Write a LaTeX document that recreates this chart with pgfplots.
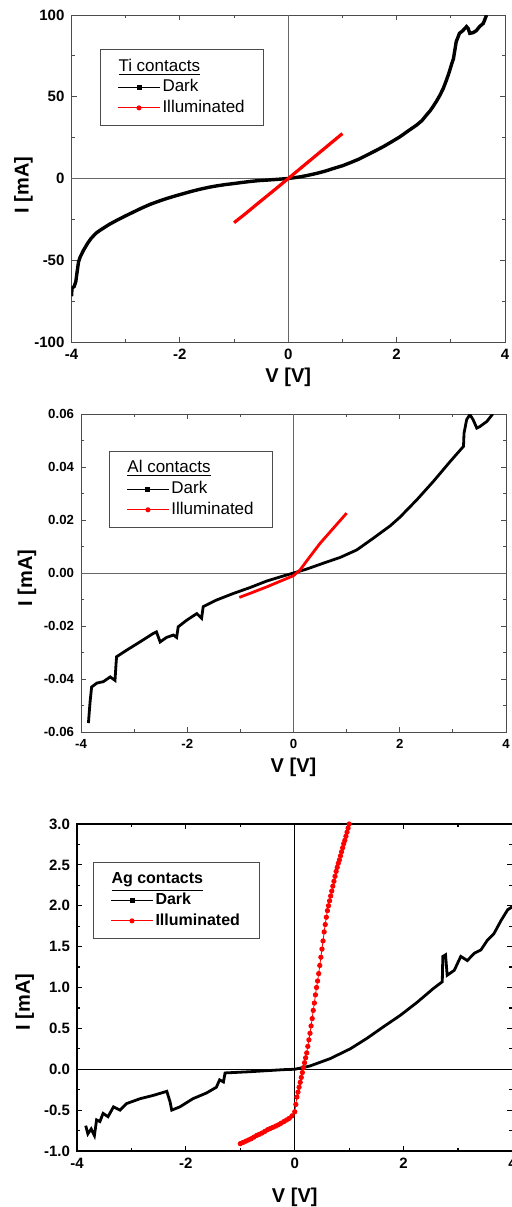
\documentclass[border=0pt]{standalone}
\usepackage{fontspec}
\setmainfont{Liberation Sans}
\usepackage{pgfplots}
\pgfplotsset{compat=1.18}

\pgfplotsset{
  ivstyle/.style={
    scale only axis, anchor=north west,
    xmin=-4, xmax=4, xtick={-4,-2,0,2,4},
    minor x tick num=1, minor y tick num=1,
    tick align=inside, xtick pos=both, ytick pos=both,
    major tick length=2.6pt, minor tick length=1.6pt,
    scaled ticks=false,
    /pgf/number format/assume math mode=true,
    xlabel={V [V]}, ylabel={I [mA]},
    label style={font=\fontsize{10}{12}\selectfont\bfseries},
    extra x ticks={0}, extra x tick labels={},
    extra y ticks={0}, extra y tick labels={},
    extra tick style={grid=major, major tick length=0pt},
    legend cell align=left,
    legend image code/.code={\draw[mark repeat=2,mark phase=2,#1] plot coordinates {(0pt,0pt)(10.5pt,0pt)(21pt,0pt)};},
    legend style={anchor=north west, inner xsep=8.5pt, inner ysep=3.5pt,
      nodes={inner sep=1pt, text height=6.3pt, text depth=2pt}, row sep=0pt},
  },
  darkpl/.style={black, line width=1.7pt, forget plot},
  litpl/.style={red, line width=1.6pt, forget plot},
}

\begin{document}
\begin{tikzpicture}
\useasboundingbox (0,0) rectangle (256pt,-603.5pt);

% ---- Ti ----
\begin{axis}[ivstyle, at={(35.75pt,-7.5pt)}, width=216.75pt, height=163.5pt,
  ymin=-100, ymax=100, ytick={-100,-50,0,50,100},
  tick label style={font=\fontsize{7.5}{9}\selectfont\bfseries},
  axis line style={black!70}, every tick/.style={black!70},
  extra tick style={major grid style={black!60, line width=0.5pt}},
  xlabel style={at={(axis description cs:0.5,-0.107)}, anchor=center},
  ylabel style={at={(axis description cs:-0.111,0.48)}, anchor=center},
  legend style={at={(0.066,0.896)}, draw=black!70, font=\fontsize{8.5}{10}\selectfont}]
\addlegendimage{empty legend}
\addlegendentry{\hspace{-22pt}\underline{Ti contacts}}
\addlegendimage{black, line width=0.5pt, mark=square*, mark size=1pt}
\addlegendentry{Dark}
\addlegendimage{red, line width=0.5pt, mark=*, mark size=1pt}
\addlegendentry{Illuminated}
\addplot[darkpl] coordinates {
(-4.00,-72) (-3.99,-67) (-3.95,-66) (-3.92,-63) (-3.90,-58) (-3.87,-51) (-3.84,-48)
(-3.78,-44) (-3.70,-39.5) (-3.64,-36.7) (-3.55,-33.5) (-3.47,-31.6) (-3.30,-28)
(-3.16,-25.5) (-3.00,-22.8) (-2.85,-20.4) (-2.70,-18) (-2.54,-15.7) (-2.40,-14)
(-2.24,-12.2) (-2.08,-10.6) (-1.93,-9.2) (-1.78,-7.8) (-1.62,-6.5) (-1.47,-5.4)
(-1.32,-4.5) (-1.16,-3.7) (-1.01,-3.1) (-0.85,-2.4) (-0.70,-1.8) (-0.55,-1.3)
(-0.40,-1.0) (-0.20,-0.5) (0,0) (0.22,1.0) (0.37,2.0) (0.52,3.1) (0.68,4.5)
(0.83,6.1) (1.00,7.8) (1.14,9.6) (1.30,11.8) (1.45,14.3) (1.60,16.8) (1.75,19.4)
(1.90,22.3) (2.06,25.5) (2.20,28.8) (2.37,32.7) (2.47,35.5) (2.55,38.8) (2.62,41.5)
(2.67,43.9) (2.74,47.5) (2.80,51) (2.86,55) (2.92,60.2) (2.97,65) (3.01,69.4)
(3.05,73.5) (3.07,77.6) (3.10,83.7) (3.16,88.8) (3.22,90.4) (3.29,92.9) (3.32,91.8)
(3.35,88.8) (3.41,89.2) (3.47,90.4) (3.53,92.9) (3.60,94.9) (3.66,100)};
\addplot[litpl] coordinates {
(-1.0,-27) (-0.8,-21.8) (-0.6,-16.3) (-0.4,-10.9) (-0.2,-5.5) (0,0)
(0.2,5.5) (0.4,11) (0.6,16.5) (0.8,22) (1.0,27.5)};
\end{axis}

% ---- Al ----
\begin{axis}[ivstyle, at={(40.5pt,-207pt)}, width=212.5pt, height=159pt,
  ymin=-0.06, ymax=0.06, ytick={-0.06,-0.04,-0.02,0,0.02,0.04,0.06},
  yticklabel style={/pgf/number format/.cd, fixed, fixed zerofill, precision=2},
  tick label style={font=\fontsize{6.6}{8}\selectfont\bfseries},
  axis line style={black!70}, every tick/.style={black!70},
  extra tick style={major grid style={black!60, line width=0.5pt}},
  xlabel style={at={(axis description cs:0.5,-0.11)}, anchor=center},
  ylabel style={at={(axis description cs:-0.127,0.484)}, anchor=center},
  legend style={at={(0.066,0.884)}, draw=black!70, font=\fontsize{8.5}{10}\selectfont}]
\addlegendimage{empty legend}
\addlegendentry{\hspace{-22pt}\underline{Al contacts}}
\addlegendimage{black, line width=0.5pt, mark=square*, mark size=1pt}
\addlegendentry{Dark}
\addlegendimage{red, line width=0.5pt, mark=*, mark size=1pt}
\addlegendentry{Illuminated}
\addplot[darkpl, line width=1.4pt] coordinates {
(-3.86,-0.0566) (-3.83,-0.0488) (-3.80,-0.043) (-3.70,-0.0415) (-3.58,-0.041)
(-3.45,-0.0392) (-3.36,-0.0405) (-3.34,-0.0342) (-3.33,-0.0316) (-3.14,-0.0291)
(-2.89,-0.026) (-2.64,-0.0228) (-2.58,-0.0222) (-2.51,-0.026) (-2.39,-0.0243)
(-2.26,-0.0234) (-2.20,-0.0243) (-2.17,-0.0203) (-2.01,-0.0178) (-1.82,-0.0153)
(-1.73,-0.0171) (-1.70,-0.0127) (-1.45,-0.0102) (-1.13,-0.0077) (-0.82,-0.0055)
(-0.50,-0.003) (-0.19,-0.0011) (0,0) (0.25,0.0015) (0.56,0.0037) (0.88,0.0059)
(1.19,0.0087) (1.50,0.0131) (1.82,0.0178) (2.00,0.021) (2.32,0.0276) (2.63,0.0345)
(2.95,0.0421) (3.20,0.0478) (3.21,0.0528) (3.26,0.0579) (3.32,0.0598) (3.38,0.0579)
(3.45,0.0547) (3.51,0.0553) (3.64,0.0572) (3.75,0.06)};
\addplot[litpl, line width=1.4pt] coordinates {
(-1.02,-0.0092) (-0.82,-0.0077) (-0.50,-0.0052) (-0.19,-0.0026) (0,-0.001)
(0.12,0.0011) (0.31,0.0062) (0.50,0.0112) (0.75,0.0169) (1.0,0.0226)};
\end{axis}

% ---- Ag ----
\begin{axis}[ivstyle, at={(38.5pt,-412pt)}, width=217.75pt, height=163.5pt,
  ymin=-1, ymax=3, ytick={-1,-0.5,0,0.5,1,1.5,2,2.5,3},
  yticklabel style={/pgf/number format/.cd, fixed, fixed zerofill, precision=1},
  tick label style={font=\fontsize{7.5}{9}\selectfont\bfseries},
  axis line style={black, line width=0.7pt}, every tick/.style={black, line width=0.6pt},
  extra tick style={major grid style={black, line width=0.7pt}},
  xlabel style={at={(axis description cs:0.5,-0.141)}, anchor=center},
  ylabel style={at={(axis description cs:-0.12,0.456)}, anchor=center},
  legend style={at={(0.037,0.884)}, draw=black!70, font=\fontsize{8}{10}\selectfont\bfseries}]
\addlegendimage{empty legend}
\addlegendentry{\hspace{-22pt}\underline{Ag contacts}}
\addlegendimage{black, line width=0.5pt, mark=square*, mark size=1pt}
\addlegendentry{Dark}
\addlegendimage{red, line width=0.5pt, mark=*, mark size=1pt}
\addlegendentry{Illuminated}
\addplot[darkpl, line width=1.4pt] coordinates {
(-3.84,-0.69) (-3.80,-0.79) (-3.74,-0.73) (-3.68,-0.81) (-3.64,-0.62) (-3.58,-0.64)
(-3.52,-0.54) (-3.43,-0.58) (-3.33,-0.46) (-3.21,-0.50) (-3.09,-0.42) (-2.84,-0.36)
(-2.60,-0.32) (-2.35,-0.27) (-2.29,-0.40) (-2.26,-0.50) (-2.11,-0.46) (-1.87,-0.36)
(-1.62,-0.29) (-1.44,-0.22) (-1.38,-0.13) (-1.31,-0.155) (-1.28,-0.045) (-0.82,-0.03)
(-0.21,-0.005) (0,0) (0.28,0.04) (0.65,0.13) (1.02,0.25) (1.33,0.38) (1.63,0.52)
(1.94,0.66) (2.25,0.82) (2.55,0.99) (2.71,1.07) (2.72,1.38) (2.77,1.40) (2.80,1.15)
(2.93,1.21) (3.05,1.38) (3.17,1.33) (3.30,1.42) (3.42,1.46) (3.54,1.58) (3.66,1.66)
(3.79,1.82) (3.91,1.95) (4.00,1.99)};
\addplot[red, forget plot, line width=0.4pt, mark=*, mark size=1.1pt] coordinates {
(-1.00,-0.91) (-0.95,-0.895) (-0.90,-0.88) (-0.85,-0.865) (-0.80,-0.85) (-0.75,-0.83)
(-0.70,-0.81) (-0.65,-0.795) (-0.60,-0.78) (-0.55,-0.76) (-0.50,-0.74) (-0.45,-0.725)
(-0.40,-0.71) (-0.35,-0.695) (-0.30,-0.68) (-0.25,-0.66) (-0.20,-0.64) (-0.15,-0.62)
(-0.10,-0.60) (-0.05,-0.57) (0.00,-0.52) (0.02,-0.43) (0.04,-0.34) (0.06,-0.28)
(0.08,-0.22) (0.10,-0.16) (0.12,-0.10) (0.14,-0.04) (0.16,0.02) (0.18,0.08)
(0.20,0.14) (0.22,0.20) (0.24,0.28) (0.26,0.36) (0.28,0.44) (0.30,0.53) (0.32,0.62)
(0.34,0.72) (0.36,0.81) (0.38,0.91) (0.40,1.00) (0.42,1.08) (0.44,1.17) (0.46,1.27)
(0.48,1.37) (0.50,1.47) (0.52,1.57) (0.54,1.68) (0.56,1.77) (0.58,1.86) (0.60,1.94)
(0.62,2.00) (0.64,2.06) (0.66,2.12) (0.68,2.18) (0.70,2.24) (0.72,2.30) (0.74,2.36)
(0.76,2.42) (0.78,2.47) (0.80,2.52) (0.82,2.56) (0.84,2.61) (0.86,2.66) (0.88,2.71)
(0.90,2.76) (0.92,2.80) (0.94,2.85) (0.96,2.90) (0.98,2.95) (1.00,3.00)};
\end{axis}
\end{tikzpicture}
\end{document}
